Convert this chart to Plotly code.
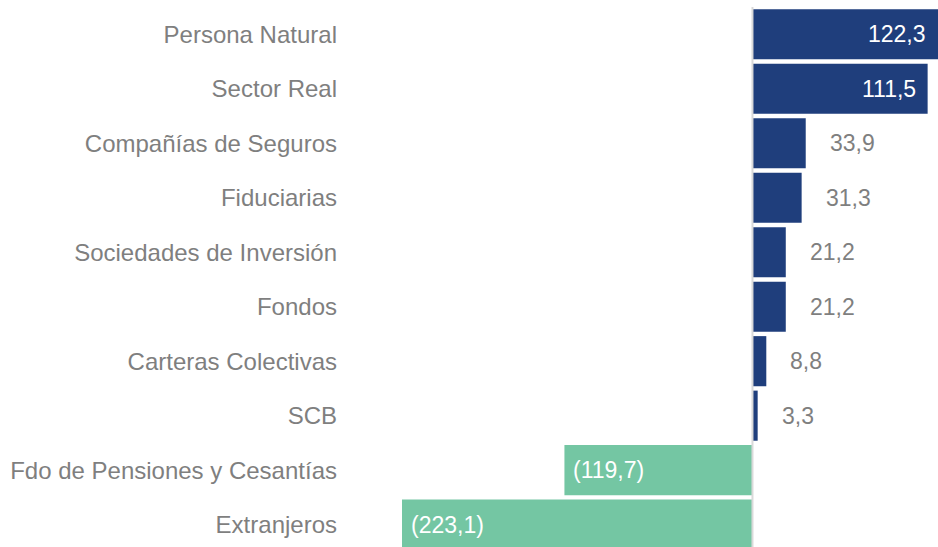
import plotly.graph_objects as go

categories = [
    "Persona Natural",
    "Sector Real",
    "Compañías de Seguros",
    "Fiduciarias",
    "Sociedades de Inversión",
    "Fondos",
    "Carteras Colectivas",
    "SCB",
    "Fdo de Pensiones y Cesantías",
    "Extranjeros",
]
values = [122.3, 111.5, 33.9, 31.3, 21.2, 21.2, 8.8, 3.3, -119.7, -223.1]

BLUE = "#1F3E7C"
GREEN = "#74C6A3"
GRAY = "#7F7F7F"
FONT = "Liberation Sans, Arial, sans-serif"

XMIN, XMAX = -223.1, 118.1


def fmt(v):
    s = f"{abs(v):.1f}".replace(".", ",")
    return f"({s})" if v < 0 else s


idx = list(range(len(categories)))
colors = [BLUE if v >= 0 else GREEN for v in values]

fig = go.Figure(
    go.Bar(
        x=values,
        y=idx,
        orientation="h",
        marker=dict(color=colors, line=dict(width=0)),
        width=0.92,
        hoverinfo="skip",
    )
)

annotations = []
for i, v in zip(idx, values):
    if v >= 0 and v > 50:
        annotations.append(dict(x=min(v, XMAX), y=i, xref="x", yref="y", text=fmt(v),
                                showarrow=False, xanchor="right", xshift=-10,
                                font=dict(color="white", size=23, family=FONT)))
    elif v >= 0:
        annotations.append(dict(x=v, y=i, xref="x", yref="y", text=fmt(v),
                                showarrow=False, xanchor="left", xshift=22,
                                font=dict(color=GRAY, size=23, family=FONT)))
    else:
        annotations.append(dict(x=max(v, XMIN), y=i, xref="x", yref="y", text=fmt(v),
                                showarrow=False, xanchor="left", xshift=7,
                                font=dict(color="white", size=23, family=FONT)))

fig.update_layout(
    width=938,
    height=547,
    margin=dict(l=402, r=0, t=7, b=0),
    paper_bgcolor="white",
    plot_bgcolor="white",
    showlegend=False,
    annotations=annotations,
    shapes=[dict(type="line", xref="x", yref="paper", x0=0, x1=0, y0=0, y1=1,
                 line=dict(color="#D9D9D9", width=2), layer="above")],
    xaxis=dict(range=[XMIN, XMAX], visible=False, showgrid=False, zeroline=False),
    yaxis=dict(
        range=[9.41, -0.5],
        tickmode="array",
        tickvals=idx,
        ticktext=categories,
        showgrid=False,
        zeroline=False,
        showline=False,
        ticks="",
        ticklabelstandoff=64,
        tickfont=dict(color=GRAY, size=24, family=FONT),
    ),
)

fig.write_html(
    "out.html",
    config={"displayModeBar": False, "staticPlot": True},
    post_script="document.body.style.margin='0';document.body.style.overflow='hidden';"
                "document.documentElement.style.overflow='hidden';",
)
